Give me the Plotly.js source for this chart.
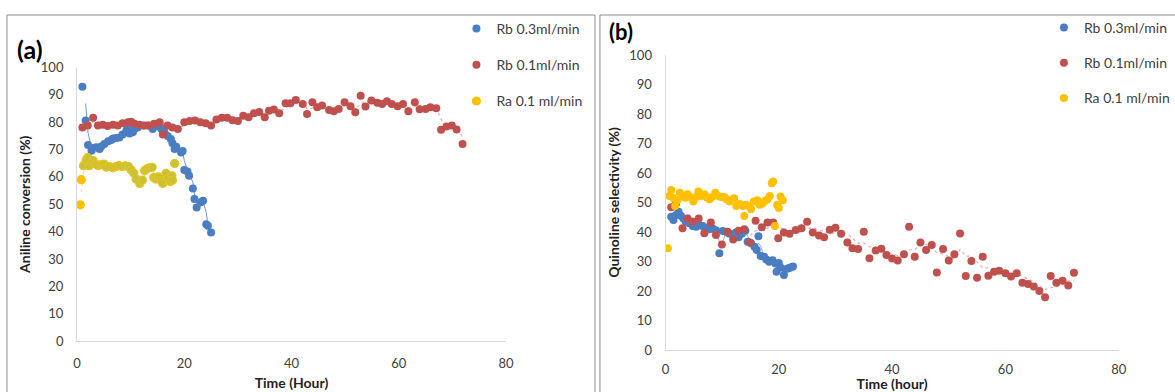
<!DOCTYPE html>
<html>
<head>
<meta charset="utf-8">
<script src="https://cdn.plot.ly/plotly-3.0.1.min.js"></script>
<style>html,body{margin:0;padding:0;background:#fff;}#chart{width:1175px;height:392px;}</style>
</head>
<body>
<div id="chart"></div>
<script>
// ---------- Data (a): Aniline conversion (%) vs Time (Hour) ----------
const seriesNames = ["Rb 0.3ml/min", "Rb 0.1ml/min", "Ra 0.1 ml/min"];
const xTicks = [0, 20, 40, 60, 80];
const yTicks = [0, 10, 20, 30, 40, 50, 60, 70, 80, 90, 100];

const blueA_x = [1.0,1.6,2.05,2.7,3.0,3.6,4.2,4.5,5.1,5.8,6.4,6.7,7.3,7.9,8.5,9.2,9.4,9.8,10.4,10.7,11.3,12.3,13.2,14.1,14.7,15.4,15.7,16.3,16.9,17.5,17.8,18.2,18.5,19.4,19.7,20.0,20.6,20.9,21.6,21.9,22.3,23.1,23.5,24.1,24.4,25.0];
const blueA_y = [93.0,80.6,71.7,69.6,70.6,70.8,70.2,71.1,72.0,73.0,73.5,74.0,74.2,74.4,75.5,76.9,78.1,75.9,76.3,77.5,78.1,78.8,78.8,77.5,78.5,79.1,77.6,76.3,75.0,73.9,72.3,70.2,71.0,68.9,69.5,62.5,62.0,60.4,55.8,51.9,48.8,50.7,51.3,42.7,42.1,39.7];

const redA_x = [1.0,2.0,3.0,3.9,4.8,5.7,6.7,7.6,8.5,9.5,10.1,10.7,11.6,12.6,13.5,14.4,15.4,16.0,16.9,17.8,18.8,20.0,21.0,22.0,23.0,24.0,25.0,26.0,27.0,28.0,29.0,30.0,31.0,32.0,33.0,34.0,35.0,35.8,36.7,37.7,38.9,39.8,40.8,42.1,42.9,43.9,44.8,45.7,47.0,47.9,48.8,49.9,51.0,51.9,52.9,53.8,54.9,56.0,56.9,57.8,58.7,59.8,60.8,61.8,63.0,63.9,65.0,65.9,67.0,67.9,68.9,69.9,70.8,71.9];
const redA_y = [78.1,78.8,81.6,78.8,79.1,78.6,79.1,78.8,79.6,80.0,80.2,79.4,79.1,78.8,78.8,79.4,80.0,75.5,78.8,78.1,77.5,80.0,80.4,80.6,80.0,79.6,78.8,81.0,81.6,81.6,80.7,80.4,82.4,81.8,83.3,83.7,81.8,84.2,84.6,83.3,86.9,86.9,88.1,86.7,83.0,87.3,85.5,86.1,84.5,84.0,84.8,87.3,85.8,83.6,89.7,85.7,87.9,87.1,86.7,87.7,86.7,85.8,86.7,84.0,87.3,84.7,84.8,85.5,85.1,77.2,78.4,78.8,77.3,72.0];

const yellowA_x = [0.6,0.8,1.2,1.7,2.0,2.3,2.7,3.0,3.5,3.9,4.5,5.0,5.4,6.0,6.7,7.3,7.8,8.4,9.0,9.6,10.1,10.6,11.0,11.7,12.2,12.6,13.0,13.5,14.0,14.3,14.7,15.2,15.7,16.0,16.6,16.9,17.4,17.7,17.8,18.2];
const yellowA_y = [49.8,59.0,64.1,66.2,67.1,64.1,65.3,66.0,64.7,64.1,64.5,64.7,63.6,63.8,63.3,63.8,64.1,63.8,64.0,63.8,62.5,61.3,59.2,57.6,58.8,62.3,62.9,63.3,63.5,59.8,59.2,60.0,58.6,57.6,61.3,59.2,58.3,60.4,58.8,64.9];

// ---------- Data (b): Quinoline selectivity (%) vs Time (hour) ----------
const blueB_x = [1.0,1.4,1.85,2.3,2.7,3.15,3.6,4.2,4.8,5.4,6.0,6.5,7.1,7.7,8.3,8.9,9.5,10.1,10.7,11.2,11.8,12.4,12.9,13.5,14.1,14.5,15.1,15.7,16.1,16.4,16.8,17.4,17.8,18.3,18.9,19.4,19.6,20.0,20.3,20.9,21.2,21.7,22.1,22.5];
const blueB_y = [45.2,44.1,45.8,46.9,45.5,44.6,43.5,43.0,42.0,41.8,42.3,42.0,41.5,40.9,41.2,40.6,32.8,40.3,40.1,39.5,39.0,39.8,38.2,39.5,40.4,36.7,36.2,35.0,33.9,38.6,31.9,31.6,30.7,29.9,30.4,29.3,26.5,29.5,28.0,25.4,27.4,27.7,28.0,28.3];

const redB_x = [1.0,1.85,3.0,3.9,4.8,5.85,6.85,8.0,8.9,9.95,10.95,11.95,12.9,13.9,14.9,15.9,17.0,18.0,19.0,19.9,20.9,21.9,23.0,24.0,25.0,26.0,27.1,28.0,29.0,30.0,31.0,32.1,33.0,34.0,35.0,36.0,37.1,38.1,39.0,40.0,41.0,42.1,43.0,44.0,45.0,46.0,47.0,47.9,49.0,50.0,51.0,52.0,53.0,54.0,55.0,56.0,57.0,58.0,58.9,60.0,61.0,62.0,63.0,64.0,65.0,66.0,67.0,68.0,69.0,70.1,71.1,72.1];
const redB_y = [48.4,49.7,41.3,44.6,43.5,44.6,39.6,43.2,39.0,35.8,40.1,37.5,40.4,40.9,36.4,43.8,41.6,43.2,43.2,37.9,39.8,39.4,40.7,41.3,43.5,39.8,38.8,38.2,40.8,41.4,39.4,36.4,34.5,34.2,40.1,31.1,33.7,34.3,32.2,31.0,30.3,32.5,41.8,31.6,36.4,33.9,35.6,26.3,34.2,30.3,32.5,39.5,25.1,30.2,24.5,31.6,25.2,26.5,26.9,26.0,24.9,26.0,22.8,22.4,21.5,20.0,17.9,25.1,22.8,23.5,21.9,26.2];

const yellowB_x = [0.4,0.7,1.0,1.4,1.7,2.1,2.55,3.0,3.5,3.9,4.3,4.9,5.4,5.8,6.3,6.9,7.3,7.8,8.2,8.8,9.2,9.8,10.4,10.8,11.3,12.1,12.5,13.1,13.7,13.9,14.2,14.7,15.1,15.6,16.2,16.6,17.1,17.6,18.0,18.4,18.75,19.0,19.3,19.7,20.0,20.3,20.7];
const yellowB_y = [34.5,52.2,54.2,51.5,48.8,50.8,53.3,52.2,51.6,52.8,51.9,50.3,51.9,53.7,52.2,52.8,51.6,51.1,51.9,53.3,52.3,51.9,51.9,51.1,50.3,51.4,48.8,49.5,48.8,45.4,49.2,48.8,47.7,50.3,50.8,49.2,49.7,50.6,51.1,52.2,56.5,57.1,42.0,49.2,48.1,52.0,50.8];

// ---------- helpers ----------
const W = 1175, H = 392;
const px = v => v / W;
const py = v => 1 - v / H;
const FONT = 'Lato, "Open Sans", "Liberation Sans", sans-serif';
const BLUE = '#4a7ec2', RED = '#c0504d', YEL = '#ffc000', OLIVE = '#c3c33c';

// Excel-style moving-average trendline derived from the data
function movAvg(xs, ys, n) {
  const ox = [], oy = [];
  for (let i = n - 1; i < xs.length; i++) {
    let s = 0; for (let k = 0; k < n; k++) s += ys[i - k];
    ox.push(xs[i]); oy.push(s / n);
  }
  return {x: ox, y: oy};
}

function pts(x, y, name, color, xa, ya, leg) {
  return {
    type: 'scatter', mode: 'markers', x: x, y: y, name: name,
    xaxis: xa, yaxis: ya, legend: leg, legendgroup: leg + name,
    marker: {size: 8, color: color, line: {width: 0, color: color}},
    hoverinfo: 'x+y'
  };
}
function trend(x, y, n, color, dash, width, xa, ya) {
  const m = movAvg(x, y, n);
  return {
    type: 'scatter', mode: 'lines', x: m.x, y: m.y, xaxis: xa, yaxis: ya,
    line: {color: color, width: width, dash: dash}, showlegend: false, hoverinfo: 'skip'
  };
}

const tBlueA = trend(blueA_x, blueA_y, 2, 'rgba(74,126,194,0.8)', 'solid', 1, 'x', 'y');
const tRedA = trend(redA_x, redA_y, 2, 'rgba(192,80,77,0.45)', 'dot', 1.2, 'x', 'y');
const tYelA = trend(yellowA_x, yellowA_y, 2, 'rgba(255,192,0,0.5)', 'dot', 1.2, 'x', 'y');
const pBlueA = pts(blueA_x, blueA_y, seriesNames[0], BLUE, 'x', 'y', 'legend');
const pRedA = pts(redA_x, redA_y, seriesNames[1], RED, 'x', 'y', 'legend');
const pYelA = pts(yellowA_x, yellowA_y, seriesNames[2], YEL, 'x', 'y', 'legend');
// left-panel Ra markers: first two pure yellow, the rest olive with a yellow rim
pYelA.marker.color = yellowA_x.map((_, i) => i < 2 ? YEL : OLIVE);
pYelA.marker.line = {width: 1.2, color: yellowA_x.map((_, i) => i < 2 ? YEL : '#e9c21c')};

const tBlueB = trend(blueB_x, blueB_y, 2, 'rgba(74,126,194,0.6)', 'solid', 1, 'x2', 'y2');
const tRedB = trend(redB_x, redB_y, 4, 'rgba(192,80,77,0.45)', 'dot', 1.2, 'x2', 'y2');
const pBlueB = pts(blueB_x, blueB_y, seriesNames[0], BLUE, 'x2', 'y2', 'legend2');
const pRedB = pts(redB_x, redB_y, seriesNames[1], RED, 'x2', 'y2', 'legend2');
const pYelB = pts(yellowB_x, yellowB_y, seriesNames[2], YEL, 'x2', 'y2', 'legend2');

const traces = [tBlueA, tRedA, tYelA, pBlueA, pRedA, pYelA, tBlueB, tRedB, pBlueB, pRedB, pYelB];

const TICKFONT = {family: FONT, size: 13, color: '#404040'};
const TITLEFONT = {family: FONT, size: 14, color: '#222'};
function xAxis(d0, d1, anchor, title, standoff, gap) {
  return {
    domain: [d0, d1], anchor: anchor, range: [0, 80], tickvals: xTicks, ticktext: xTicks.map(String),
    showgrid: false, zeroline: false, showline: true, linecolor: '#d9d9d9', linewidth: 1,
    ticks: 'outside', ticklen: gap, tickcolor: 'rgba(0,0,0,0)', tickfont: TICKFONT,
    title: {text: title, font: TITLEFONT, standoff: standoff},
    automargin: false, fixedrange: true
  };
}
function yAxis(d0, d1, anchor, title, standoff, gap) {
  return {
    domain: [d0, d1], anchor: anchor, range: [0, 100], tickvals: yTicks, ticktext: yTicks.map(String),
    showgrid: false, zeroline: false, showline: true, linecolor: '#d9d9d9', linewidth: 1,
    ticks: 'outside', ticklen: gap, tickcolor: 'rgba(0,0,0,0)', tickfont: TICKFONT,
    title: {text: title, font: TITLEFONT, standoff: standoff},
    automargin: false, fixedrange: true
  };
}

function legendCfg(xl, yt, gap) {
  return {
    x: xl, y: yt, xanchor: 'left', yanchor: 'top', xref: 'paper', yref: 'paper',
    bgcolor: 'rgba(0,0,0,0)', borderwidth: 0, traceorder: 'grouped', tracegroupgap: gap,
    font: {family: FONT, size: 14, color: '#404040'}, itemwidth: 30
  };
}

const layout = {
  width: W, height: H, margin: {l: 0, r: 0, t: 0, b: 0},
  paper_bgcolor: '#fff', plot_bgcolor: 'rgba(0,0,0,0)', showlegend: true,
  xaxis: xAxis(px(77.3), px(507.7), 'y', '<b>Time (Hour)</b>', 8, 10),
  yaxis: yAxis(py(341), py(67.5), 'x', '<b>Aniline conversion (%)</b>', 6, 10),
  xaxis2: xAxis(px(667.8), px(1122.5), 'y2', '<b>Time (hour)</b>', 1, 7),
  yaxis2: yAxis(py(350), py(55), 'x2', '<b>Quinoline selectivity (%)</b>', 6, 10),
  legend: legendCfg(px(458), py(13), 15),
  legend2: legendCfg(px(1047.5), py(12), 14),
  shapes: [
    {type: 'rect', xref: 'paper', yref: 'paper', x0: px(7), x1: px(597), y0: py(420), y1: py(15),
     line: {color: '#8c8c8c', width: 1}, fillcolor: 'rgba(0,0,0,0)', layer: 'below'},
    {type: 'rect', xref: 'paper', yref: 'paper', x0: px(602), x1: px(1200), y0: py(420), y1: py(15),
     line: {color: '#8c8c8c', width: 1}, fillcolor: 'rgba(0,0,0,0)', layer: 'below'}
  ],
  annotations: [
    {text: '<b>(a)</b>', xref: 'paper', yref: 'paper', x: px(15), y: py(49), xanchor: 'left', yanchor: 'middle',
     showarrow: false, font: {family: FONT, size: 25, color: '#000'}},
    {text: '<b>(b)</b>', xref: 'paper', yref: 'paper', x: px(609), y: py(47), xanchor: 'left', yanchor: 'bottom',
     showarrow: false, font: {family: FONT, size: 22, color: '#000'}}
  ]
};

Plotly.newPlot('chart', traces, layout, {displayModeBar: false, responsive: false});
</script>
</body>
</html>
